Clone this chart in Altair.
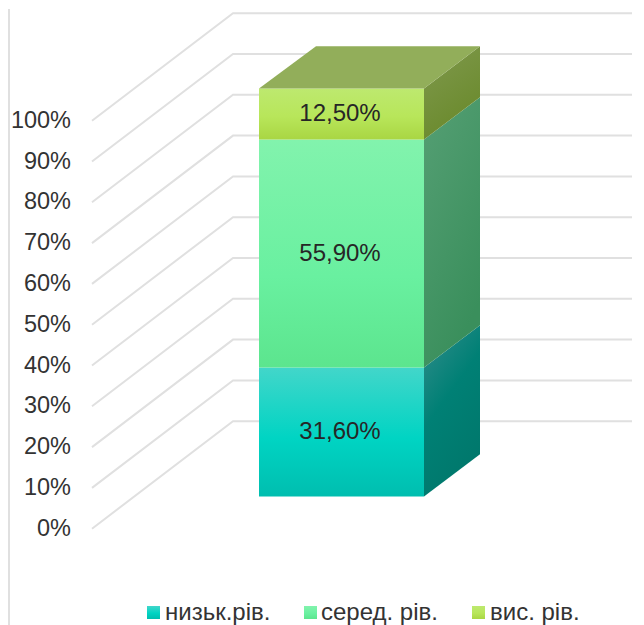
import altair as alt
import pandas as pd

# ---- chart values ----
categories = ["низьк.рів.", "серед. рів.", "вис. рів."]
values = [31.6, 55.9, 12.5]
value_labels = ["31,60%", "55,90%", "12,50%"]
ticks = [0, 10, 20, 30, 40, 50, 60, 70, 80, 90, 100]
tick_labels = ["0%", "10%", "20%", "30%", "40%", "50%", "60%", "70%", "80%", "90%", "100%"]

# ---- 3D layout: x in page units, depth as an upward shift in percent units ----
X_LABEL, X_WALL_FRONT, X_WALL_BACK = 71, 92, 233
BAR_L, BAR_R, BAR_DX = 259, 424, 56
LABEL_X = 340
D_WALL, D_FRONT, D_BACK = 26.35, 7.9, 18.25
PX_PER_PCT = 4.08
Y0_PAGE = 527.7
PAGE_MARGIN = 8
VIEW_W, VIEW_H = 624, 617
X_RIGHT = PAGE_MARGIN + VIEW_W
PAGE_BOTTOM = PAGE_MARGIN + VIEW_H

y_domain = [(Y0_PAGE - PAGE_BOTTOM) / PX_PER_PCT, (Y0_PAGE - PAGE_MARGIN) / PX_PER_PCT]
X = alt.Scale(domain=[PAGE_MARGIN, X_RIGHT], nice=False, zero=False)
Y = alt.Scale(domain=y_domain, nice=False, zero=False)


def grad(stops, x2=0, y2=1):
    return alt.Gradient(
        gradient="linear", x1=0, y1=0, x2=x2, y2=y2,
        stops=[alt.GradientStop(offset=o, color=c) for o, c in stops],
    )


front_grads = [
    [(0, "#42d6ca"), (0.55, "#00d4c3"), (1, "#00beaf")],
    [(0, "#82f3ad"), (0.6, "#69f0a0"), (1, "#5ce58e")],
    [(0, "#bde96f"), (0.55, "#b8e65a"), (1, "#a9d643")],
]
side_grads = [
    [(0, "#338d8c"), (0.5, "#008075"), (1, "#00786c")],
    [(0, "#559f74"), (1, "#3a8f5c")],
    [(0, "#80994e"), (1, "#6a8a2c")],
]
TOP_COLOR = "#92ae5a"
GRID = "#e0e0e0"
TEXT = "#333333"
FONT = "Liberation Sans"

# ---- gridlines ----
grid_rows = []
for t in ticks:
    grid_rows += [
        {"t": t, "x": X_WALL_FRONT, "y": t},
        {"t": t, "x": X_WALL_BACK, "y": t + D_WALL},
        {"t": t, "x": X_RIGHT, "y": t + D_WALL},
    ]
grid = alt.Chart(pd.DataFrame(grid_rows)).mark_line(color=GRID, strokeWidth=2).encode(
    x=alt.X("x:Q", scale=X, axis=None),
    y=alt.Y("y:Q", scale=Y, axis=None),
    detail="t:N",
)

frame = alt.Chart(pd.DataFrame({"x": [PAGE_MARGIN + 1]})).mark_rule(color=GRID, strokeWidth=2).encode(
    x=alt.X("x:Q", scale=X, axis=None)
)

tick_text = alt.Chart(pd.DataFrame({"y": ticks, "label": tick_labels, "x": [X_LABEL] * len(ticks)})).mark_text(
    align="right", baseline="middle", font=FONT, fontSize=23.5, color=TEXT
).encode(
    x=alt.X("x:Q", scale=X, axis=None),
    y=alt.Y("y:Q", scale=Y, axis=None),
    text="label:N",
)

# ---- bar faces ----
layers = [frame, grid, tick_text]
base = 0
label_rows = []
for i, v in enumerate(values):
    top = base + v
    front = alt.Chart(pd.DataFrame([{"x": BAR_L, "x2": BAR_R, "y": base + D_FRONT, "y2": top + D_FRONT}])).mark_rect(
        color=grad(front_grads[i])
    ).encode(
        x=alt.X("x:Q", scale=X, axis=None), x2="x2:Q",
        y=alt.Y("y:Q", scale=Y, axis=None), y2="y2:Q",
    )
    side = alt.Chart(pd.DataFrame([
        {"x": BAR_R, "y": base + D_FRONT, "y2": top + D_FRONT},
        {"x": BAR_R + BAR_DX, "y": base + D_BACK, "y2": top + D_BACK},
    ])).mark_area(color=grad(side_grads[i], x2=0.45, y2=1), orient="vertical").encode(
        x=alt.X("x:Q", scale=X, axis=None),
        y=alt.Y("y:Q", scale=Y, axis=None, stack=None), y2="y2:Q",
    )
    layers += [side, front]
    label_rows.append({"x": LABEL_X, "y": base + v / 2 + D_FRONT, "label": value_labels[i]})
    base = top

top_face = alt.Chart(pd.DataFrame([
    {"y": base + D_FRONT, "x": BAR_L, "x2": BAR_R},
    {"y": base + D_BACK, "x": BAR_L + BAR_DX + 1, "x2": BAR_R + BAR_DX},
])).mark_area(color=TOP_COLOR, orient="horizontal").encode(
    y=alt.Y("y:Q", scale=Y, axis=None),
    x=alt.X("x:Q", scale=X, axis=None, stack=None), x2="x2:Q",
)
layers.append(top_face)

value_text = alt.Chart(pd.DataFrame(label_rows)).mark_text(
    align="center", baseline="middle", font=FONT, fontSize=24, color="#262626"
).encode(
    x=alt.X("x:Q", scale=X, axis=None),
    y=alt.Y("y:Q", scale=Y, axis=None),
    text="label:N",
)
layers.append(value_text)

# ---- legend (gradient swatches + real text) ----
legend_swatch_x = [147, 304, 472]
legend_text_x = [165, 321, 490]
SW = 13
LEG_TOP, LEG_BASE = 605, 619
for i, c in enumerate(categories):
    sw = alt.Chart(pd.DataFrame([{
        "x": legend_swatch_x[i], "x2": legend_swatch_x[i] + SW,
        "y": (Y0_PAGE - LEG_TOP - SW) / PX_PER_PCT, "y2": (Y0_PAGE - LEG_TOP) / PX_PER_PCT,
    }])).mark_rect(color=grad(front_grads[i])).encode(
        x=alt.X("x:Q", scale=X, axis=None), x2="x2:Q",
        y=alt.Y("y:Q", scale=Y, axis=None), y2="y2:Q",
    )
    txt = alt.Chart(pd.DataFrame([{
        "x": legend_text_x[i], "y": (Y0_PAGE - LEG_BASE) / PX_PER_PCT, "label": c,
    }])).mark_text(
        align="left", baseline="alphabetic", font=FONT, fontSize=24, color=TEXT
    ).encode(
        x=alt.X("x:Q", scale=X, axis=None),
        y=alt.Y("y:Q", scale=Y, axis=None),
        text="label:N",
    )
    layers += [sw, txt]

chart = alt.layer(*layers).properties(
    width=VIEW_W, height=VIEW_H, padding=0, background="white"
).configure_view(stroke=None)

chart.save("out.html", embed_options={"renderer": "svg", "actions": False})
